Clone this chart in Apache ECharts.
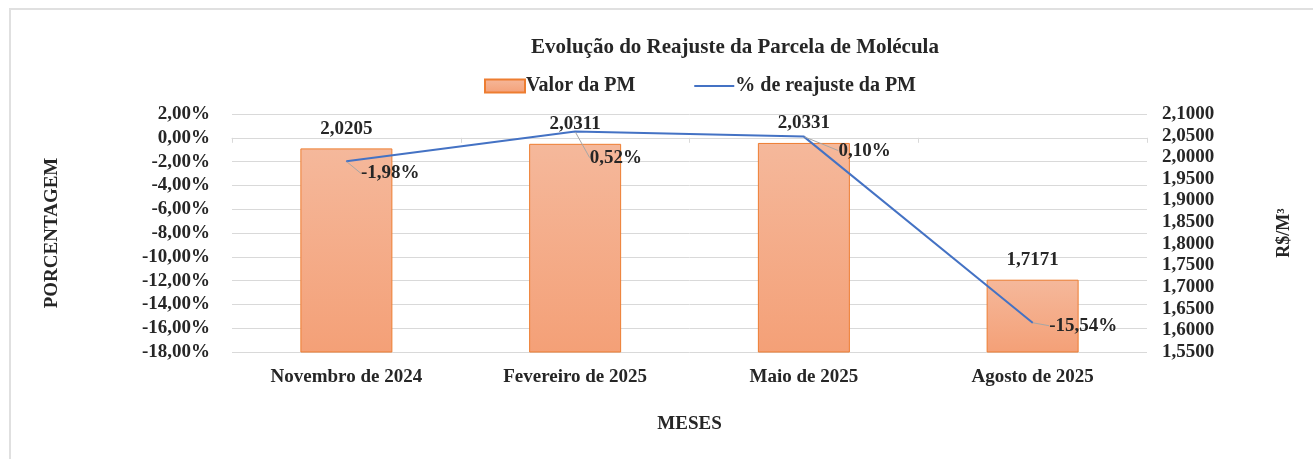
<!DOCTYPE html>
<html>
<head>
<meta charset="utf-8">
<script src="https://cdn.jsdelivr.net/npm/echarts@6/dist/echarts.min.js"></script>
<style>
    html, body { margin: 0; padding: 0; background: #fff; }
    #chart { width: 1313px; height: 459px; }
</style>
</head>
<body>
<div id="chart"></div>
<script>
    // dados
    var meses = ['Novembro de 2024', 'Fevereiro de 2025', 'Maio de 2025', 'Agosto de 2025'];
    var valorPM = [2.0205, 2.0311, 2.0331, 1.7171];
    var reajustePM = [-1.98, 0.52, 0.10, -15.54];

    // deslocamento dos rótulos da linha (px)
    var labelShift = [[4, 12], [4, 26], [24, 14], [6, 3]];

    var fonte = '"Liberation Serif", "Times New Roman", serif';
    var cor = '#262626';
    var fmtPct = function (v) { return v.toFixed(2).replace('.', ',') + '%'; };
    var fmtVal = function (v) { return v.toFixed(4).replace('.', ','); };

    var chart = echarts.init(document.getElementById('chart'));
    var option = {
        backgroundColor: '#fff',
        textStyle: { fontFamily: fonte, fontWeight: 'bold', color: cor },
        graphic: [{
            type: 'rect',
            shape: { x: 10, y: 9, width: 1320, height: 470 },
            style: { fill: 'none', stroke: '#e0e0e0', lineWidth: 2 }
        }],
        title: {
            text: 'Evolução do Reajuste da Parcela de Molécula',
            left: 730,
            top: 32,
            textAlign: 'center',
            textStyle: { fontFamily: fonte, fontSize: 21, fontWeight: 'bold', color: cor }
        },
        legend: {
            top: 71,
            left: 479,
            itemGap: 58,
            itemWidth: 40,
            itemHeight: 13,
            textStyle: { fontFamily: fonte, fontSize: 20, fontWeight: 'bold', color: cor, padding: [0, 0, 0, -4] },
            data: [
                { name: 'Valor da PM', icon: 'rect' },
                { name: '% de reajuste da PM', itemStyle: { opacity: 0 } }
            ]
        },
        grid: { left: 232, right: 166, top: 114, bottom: 107 },
        xAxis: [{
            type: 'category',
            data: meses,
            name: 'MESES',
            nameLocation: 'middle',
            nameGap: 63,
            nameTextStyle: { fontFamily: fonte, fontSize: 19, fontWeight: 'bold', color: cor },
            axisLine: { show: false },
            axisTick: { show: false },
            axisLabel: { margin: 16, fontFamily: fonte, fontSize: 19, fontWeight: 'bold', color: cor }
        }, {
            // linha do eixo cruzando em 0%
            type: 'category',
            data: meses,
            position: 'bottom',
            axisLine: { onZero: true, onZeroAxisIndex: 0, lineStyle: { color: '#d9d9d9' } },
            axisTick: { show: true, length: 5, lineStyle: { color: '#d9d9d9' } },
            axisLabel: { show: false }
        }],
        yAxis: [{
            type: 'value',
            min: -18,
            max: 2,
            interval: 2,
            name: 'PORCENTAGEM',
            nameLocation: 'middle',
            nameRotate: 90,
            nameGap: 170,
            nameTextStyle: { fontFamily: fonte, fontSize: 19, fontWeight: 'bold', color: cor },
            axisLine: { show: false },
            axisTick: { show: false },
            splitLine: { lineStyle: { color: '#d9d9d9', width: 1 } },
            axisLabel: { margin: 22, fontFamily: fonte, fontSize: 19, fontWeight: 'bold', color: cor, formatter: fmtPct }
        }, {
            type: 'value',
            min: 1.55,
            max: 2.1,
            interval: 0.05,
            position: 'right',
            name: 'R$/M³',
            nameLocation: 'middle',
            nameRotate: 90,
            nameGap: 128,
            nameTextStyle: { fontFamily: fonte, fontSize: 18, fontWeight: 'bold', color: cor },
            axisLine: { show: false },
            axisTick: { show: false },
            splitLine: { show: false },
            axisLabel: { margin: 15, fontFamily: fonte, fontSize: 19, fontWeight: 'bold', color: cor, formatter: fmtVal }
        }],
        series: [{
            name: 'Valor da PM',
            type: 'bar',
            yAxisIndex: 1,
            barWidth: 92,
            data: valorPM,
            itemStyle: {
                color: new echarts.graphic.LinearGradient(0, 0, 0, 1, [
                    { offset: 0, color: '#f5b89b' },
                    { offset: 1, color: '#f4a077' }
                ]),
                borderColor: '#ed7d31',
                borderWidth: 1
            },
            label: {
                show: true,
                position: 'top',
                distance: 10,
                fontFamily: fonte,
                fontSize: 19,
                fontWeight: 'bold',
                color: cor,
                formatter: function (p) { return fmtVal(p.value); }
            }
        }, {
            name: '% de reajuste da PM',
            type: 'line',
            yAxisIndex: 0,
            data: reajustePM,
            symbol: 'circle',
            symbolSize: 1,
            showSymbol: true,
            lineStyle: { color: '#4472c4', width: 2 },
            itemStyle: { color: '#4472c4' },
            z: 5,
            label: {
                show: true,
                position: 'right',
                distance: 10,
                fontFamily: fonte,
                fontSize: 19,
                fontWeight: 'bold',
                color: cor,
                formatter: function (p) { return fmtPct(p.value); }
            },
            labelLine: { show: true, lineStyle: { color: '#a6a6a6', width: 1 } },
            labelLayout: function (p) {
                var s = labelShift[p.dataIndex];
                return { dx: s[0], dy: s[1] };
            }
        }]
    };
    chart.setOption(option);
</script>
</body>
</html>
